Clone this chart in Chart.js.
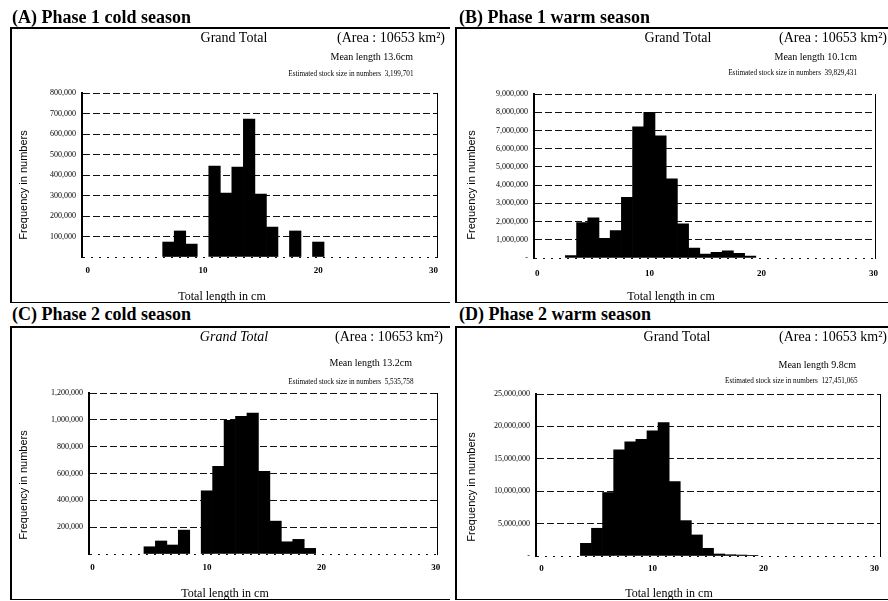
<!DOCTYPE html>
<html><head><meta charset="utf-8">
<script src="https://cdn.jsdelivr.net/npm/chart.js@4.4.1/dist/chart.umd.min.js"></script>
<style>
html,body{margin:0;padding:0;background:#fff;}
#page{position:relative;width:888px;height:601px;overflow:hidden;background:#fff;font-family:"Liberation Serif","Times New Roman",serif;color:#000;}
.box{position:absolute;border-left:2px solid #000;border-top:2px solid #000;border-bottom:1px solid #000;box-sizing:border-box;}
.t{position:absolute;white-space:nowrap;line-height:1;}
.c{transform:translate(-50%,-50%);}
.r{transform-origin:100% 50%;transform:translateY(-50%);}
.rs{transform-origin:100% 50%;transform:translateY(-50%) scaleX(0.8);}
.ttl{font-weight:bold;font-size:18px;transform:translateY(-50%);}
.gt{font-size:14px;}
.ml{font-size:10px;}
.es{font-size:9px;}
.yt{font-family:"Liberation Sans",Arial,sans-serif;font-size:11px;transform:translate(-50%,-50%) rotate(-90deg);}
.xt{font-size:12px;transform:translate(-50%,-50%);}
canvas{position:absolute;}
</style></head><body><div id="page">
<div class="box" style="left:10px;top:27px;width:440px;height:276px;"></div>
<div class="box" style="left:455px;top:27px;width:440px;height:276px;"></div>
<div class="box" style="left:10px;top:326px;width:440px;height:274px;"></div>
<div class="box" style="left:455px;top:326px;width:440px;height:274px;"></div>

<canvas id="cA" width="440" height="276" style="left:10px;top:27px;"></canvas>
<canvas id="cB" width="432" height="276" style="left:456px;top:27px;"></canvas>
<canvas id="cC" width="440" height="274" style="left:10px;top:327px;"></canvas>
<canvas id="cD" width="432" height="274" style="left:456px;top:327px;"></canvas>

<div class="t ttl" style="left:12px;top:17px;">(A) Phase 1 cold season</div>
<div class="t ttl" style="left:459px;top:17px;">(B) Phase 1 warm season</div>
<div class="t ttl" style="left:12px;top:314px;">(C) Phase 2 cold season</div>
<div class="t ttl" style="left:459px;top:314px;">(D) Phase 2 warm season</div>

<div class="t gt c" style="left:234px;top:38px;">Grand Total</div>
<div class="t gt r" style="right:443px;top:38px;">(Area : 10653 km²)</div>
<div class="t ml r" style="right:475px;top:57px;">Mean length 13.6cm</div>
<div class="t es rs" style="right:475px;top:73px;">Estimated stock size in numbers&nbsp; 3,199,701</div>
<div class="t yt" style="left:23px;top:185px;">Frequency in numbers</div>
<div class="t xt" style="left:222px;top:296px;">Total length in cm</div>

<div class="t gt c" style="left:678px;top:38px;">Grand Total</div>
<div class="t gt r" style="right:1px;top:38px;">(Area : 10653 km²)</div>
<div class="t ml r" style="right:31px;top:57px;">Mean length 10.1cm</div>
<div class="t es rs" style="right:31px;top:72px;">Estimated stock size in numbers&nbsp; 39,829,431</div>
<div class="t yt" style="left:471px;top:185px;">Frequency in numbers</div>
<div class="t xt" style="left:671px;top:296px;">Total length in cm</div>

<div class="t gt c" style="left:234px;top:337px;font-style:italic;">Grand Total</div>
<div class="t gt r" style="right:445px;top:337px;">(Area : 10653 km²)</div>
<div class="t ml r" style="right:476px;top:363px;">Mean length 13.2cm</div>
<div class="t es rs" style="right:475px;top:381px;">Estimated stock size in numbers&nbsp; 5,535,758</div>
<div class="t yt" style="left:23px;top:485px;">Frequency in numbers</div>
<div class="t xt" style="left:225px;top:593px;">Total length in cm</div>

<div class="t gt c" style="left:677px;top:337px;">Grand Total</div>
<div class="t gt r" style="right:1px;top:337px;">(Area : 10653 km²)</div>
<div class="t ml r" style="right:32px;top:365px;">Mean length 9.8cm</div>
<div class="t es rs" style="right:31px;top:380px;">Estimated stock size in numbers&nbsp; 127,451,065</div>
<div class="t yt" style="left:471px;top:487px;">Frequency in numbers</div>
<div class="t xt" style="left:669px;top:593px;">Total length in cm</div>
</div>
<script>
// ---- data ----
const xTickValues = [0, 10, 20, 30];

const aLengths = [7, 8, 9, 11, 12, 13, 14, 15, 16, 18, 20];
const aFreq = [73000, 127000, 63000, 444000, 312000, 439000, 673000, 307000, 146000, 127000, 73000];
const aYTicks = [0, 100000, 200000, 300000, 400000, 500000, 600000, 700000, 800000];

const bLengths = [3, 4, 5, 6, 7, 8, 9, 10, 11, 12, 13, 14, 15, 16, 17, 18, 19];
const bFreq = [130000, 1950000, 2210000, 1080000, 1500000, 3330000, 7200000, 8000000, 6700000, 4340000, 1870000, 550000, 220000, 310000, 400000, 260000, 110000];
const bYTicks = [0, 1000000, 2000000, 3000000, 4000000, 5000000, 6000000, 7000000, 8000000, 9000000];

const cLengths = [5, 6, 7, 8, 10, 11, 12, 13, 14, 15, 16, 17, 18, 19];
const cFreq = [54000, 97000, 67000, 178000, 471000, 654000, 996000, 1026000, 1051000, 617000, 245000, 91000, 109000, 42000];
const cYTicks = [0, 200000, 400000, 600000, 800000, 1000000, 1200000];

const dLengths = [4, 5, 6, 7, 8, 9, 10, 11, 12, 13, 14, 15, 16, 17, 18, 19];
const dFreq = [1960000, 4280000, 9800000, 16400000, 17600000, 18000000, 19300000, 20600000, 11500000, 5460000, 3250000, 1190000, 310000, 200000, 150000, 100000];
const dYTicks = [0, 5000000, 10000000, 15000000, 20000000, 25000000];

function makeChart(id, lengths, freq, yTicks, zeroLabel, g) {
  const ctx = document.getElementById(id).getContext('2d');
  return new Chart(ctx, {
    type: 'bar',
    data: {
      datasets: [{
        data: lengths.map((x, i) => ({ x: x, y: freq[i] })),
        backgroundColor: '#000',
        borderWidth: 0,
        barPercentage: 1,
        categoryPercentage: 1
      }]
    },
    options: {
      responsive: false,
      animation: false,
      devicePixelRatio: 1,
      layout: { padding: { top: g.padTop, left: 0, right: 0, bottom: 0 } },
      plugins: { legend: { display: false }, tooltip: { enabled: false } },
      scales: {
        x: {
          type: 'linear', min: g.xMin, max: g.xMax, offset: false,
          grid: { display: false, drawTicks: false, offset: false },
          border: { display: false },
          afterBuildTicks: s => { s.ticks = xTickValues.map(v => ({ value: v })); },
          ticks: { autoSkip: false, maxRotation: 0, padding: g.xPad, color: '#000',
                   font: { family: 'Liberation Serif', size: 9, weight: 'bold' },
                   callback: v => String(v) },
          afterFit: s => { s.height = g.xH; }
        },
        y: {
          type: 'linear', position: 'left', min: 0, max: yTicks[yTicks.length - 1],
          afterBuildTicks: s => { s.ticks = yTicks.map(v => ({ value: v })); },
          grid: { display: true, drawTicks: false, color: '#111', lineWidth: 1 },
          border: { display: true, color: '#000', width: 2,
                    dash: c => (c.tick && c.tick.value === 0) ? [2, 6] : [7, 3] },
          ticks: { padding: 6, color: '#000', font: { family: 'Liberation Serif', size: 8 },
                   callback: v => v === 0 ? zeroLabel : v.toLocaleString('en-US') },
          afterFit: s => { s.width = g.yW; }
        },
        y2: {
          type: 'linear', position: 'right',
          grid: { display: false, drawTicks: false },
          ticks: { display: false },
          border: { display: true, color: '#000', width: 1 },
          afterFit: s => { s.width = g.y2W; }
        }
      }
    }
  });
}

makeChart('cA', aLengths, aFreq, aYTicks, '', { padTop: 66, yW: 72, y2W: 13, xH: 46, xMin: -0.5, xMax: 30.3, xPad: 8 });
makeChart('cB', bLengths, bFreq, bYTicks, '-', { padTop: 67, yW: 78, y2W: 9, xH: 45, xMin: -0.3, xMax: 30.2, xPad: 10 });
makeChart('cC', cLengths, cFreq, cYTicks, '', { padTop: 66, yW: 79, y2W: 13, xH: 47, xMin: -0.3, xMax: 30.1, xPad: 8 });
makeChart('cD', dLengths, dFreq, dYTicks, '-', { padTop: 67, yW: 80, y2W: 8, xH: 45, xMin: -0.5, xMax: 30.5, xPad: 7 });
</script>
</body></html>
